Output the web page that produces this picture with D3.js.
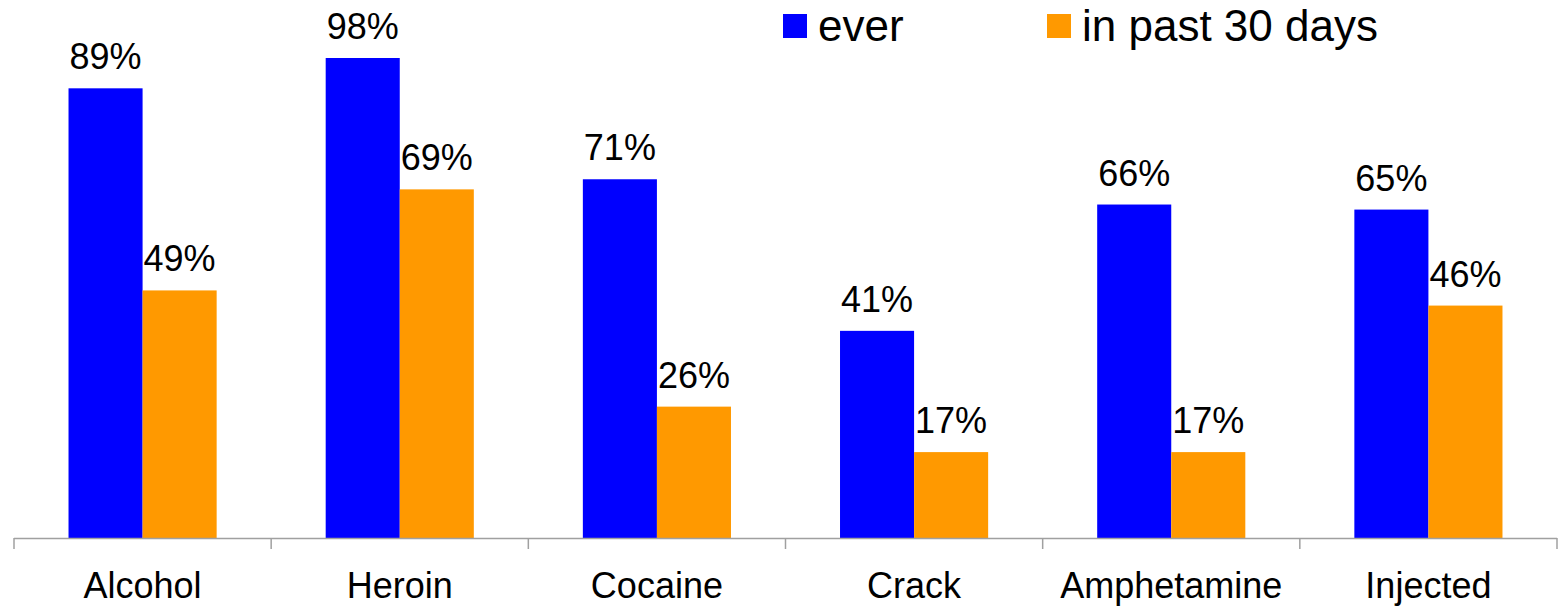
<!DOCTYPE html>
<html>
<head>
<meta charset="utf-8">
<script src="https://cdn.jsdelivr.net/npm/d3@7"></script>
<style>
  body { margin: 0; background: #fff; }
  text { font-family: "Liberation Sans", Arial, sans-serif; fill: #000; }
</style>
</head>
<body>
<div id="plot"></div>
<script>
// data
var categories = ["Alcohol", "Heroin", "Cocaine", "Crack", "Amphetamine", "Injected"];
var seriesNames = ["ever", "in past 30 days"];
var everValues = [89, 98, 71, 41, 66, 65];
var past30Values = [49, 69, 26, 17, 17, 46];

var width = 1565;
var height = 606;
var blue = "#0000ff";
var orange = "#ff9900";

var svg = d3.select("div#plot")
  .append("svg")
  .attr("width", width)
  .attr("height", height);

// the plot tops out at 95%, so the 98% bar is clipped
var y = d3.scaleLinear()
  .domain([0, 95])
  .range([538, 58])
  .clamp(true);

var x0 = d3.scaleBand()
  .domain(categories)
  .range([14, 1557])
  .paddingInner(0.424)
  .paddingOuter(0.212);

var x1 = d3.scaleBand()
  .domain(seriesNames)
  .range([0, x0.bandwidth()]);

var color = d3.scaleOrdinal().domain(seriesNames).range([blue, orange]);

var rows = categories.map(function(c, i){
  return {cat: c, vals: [
    {key: seriesNames[0], value: everValues[i]},
    {key: seriesNames[1], value: past30Values[i]}
  ]};
});

var groups = svg.selectAll("g.cat")
  .data(rows)
  .enter()
  .append("g")
  .attr("class", "cat")
  .attr("transform", function(d){ return "translate(" + x0(d.cat) + ",0)"; });

groups.selectAll("rect")
  .data(function(d){ return d.vals; })
  .enter()
  .append("rect")
  .attr("x", function(d){ return x1(d.key); })
  .attr("width", x1.bandwidth())
  .attr("y", function(d){ return y(d.value); })
  .attr("height", function(d){ return y(0) - y(d.value); })
  .style("fill", function(d){ return color(d.key); });

groups.selectAll("text.val")
  .data(function(d){ return d.vals; })
  .enter()
  .append("text")
  .attr("class", "val")
  .attr("x", function(d){ return x1(d.key) + x1.bandwidth() / 2; })
  .attr("y", function(d){ return y(d.value) - 19; })
  .attr("text-anchor", "middle")
  .style("font-size", "36px")
  .text(function(d){ return d.value + "%"; });

// x axis with ticks between the categories
var step = x0.step();
var bounds = d3.range(categories.length + 1).map(function(i){ return 14 + i * step; });
var xAxis = svg.append("g").attr("class", "x axis");
xAxis.append("line")
  .attr("x1", bounds[0]).attr("x2", bounds[bounds.length - 1])
  .attr("y1", y(0) + 0.5).attr("y2", y(0) + 0.5)
  .style("stroke", "#a0a0a0").style("stroke-width", 1.5);
xAxis.selectAll("line.tick")
  .data(bounds)
  .enter()
  .append("line")
  .attr("class", "tick")
  .attr("x1", function(d){ return d; }).attr("x2", function(d){ return d; })
  .attr("y1", y(0)).attr("y2", y(0) + 11)
  .style("stroke", "#a0a0a0").style("stroke-width", 1.5);
xAxis.selectAll("text")
  .data(categories)
  .enter()
  .append("text")
  .attr("x", function(d){ return x0(d) + x0.bandwidth() / 2; })
  .attr("y", 598)
  .attr("text-anchor", "middle")
  .style("font-size", "36px")
  .text(function(d){ return d; });

// legend
var legendX = [783, 1047];
var legend = svg.selectAll("g.legend")
  .data(seriesNames)
  .enter()
  .append("g")
  .attr("class", "legend")
  .attr("transform", function(d, i){ return "translate(" + legendX[i] + ",14)"; });
legend.append("rect")
  .attr("width", 24)
  .attr("height", 24)
  .style("fill", function(d){ return color(d); });
legend.append("text")
  .attr("x", 35)
  .attr("y", 27)
  .style("font-size", "44px")
  .text(function(d){ return d; });
</script>
</body>
</html>
